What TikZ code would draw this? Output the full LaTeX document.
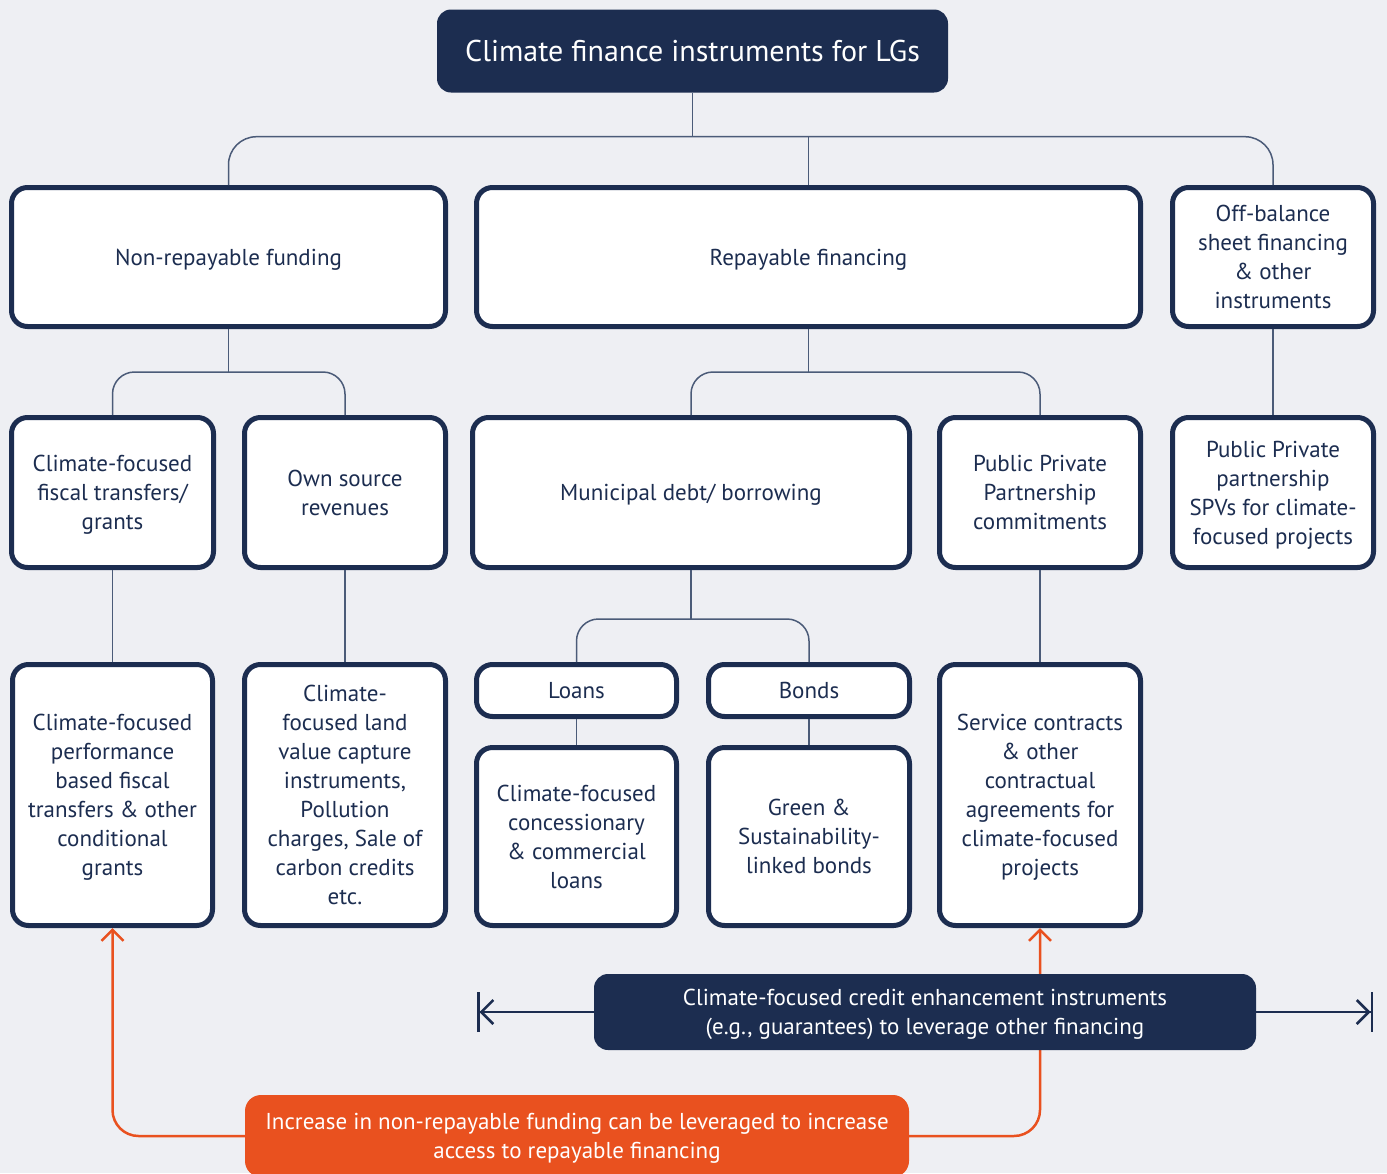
\documentclass[tikz,border=0pt]{standalone}
\usepackage{fontspec}
\setmainfont{PT Sans}
\usetikzlibrary{arrows.meta}
\definecolor{navy}{HTML}{1C2D50}
\definecolor{bg}{HTML}{EEEFF3}
\definecolor{orng}{HTML}{E9511F}
\definecolor{linkc}{HTML}{4B5B78}

\begin{document}
\begin{tikzpicture}[x=1pt,y=-1pt,
  box/.style={draw=navy,line width=5pt,fill=white,rounded corners=16pt,text=navy,align=center,inner sep=0pt,text depth=0pt,font=\fontsize{23}{29}\selectfont},
  dark/.style={fill=navy,rounded corners=14pt,text=white,align=center,inner sep=0pt,text depth=0pt},
  link/.style={draw=linkc,line width=1.5pt},
  lever/.style={draw=orng,line width=2.5pt,rounded corners=26pt,-{Straight Barb[length=11pt,width=22pt]}},
  enh/.style={draw=navy,line width=2.5pt,-{Straight Barb[length=12pt,width=24pt,sep=0pt]Bar[width=40pt]}}]
\useasboundingbox (0,0) rectangle (1387,1173);
\clip (0,0) rectangle (1387,1173);
\fill[bg] (0,0) rectangle (1387,1173);

\node[dark,minimum width=511,minimum height=83,font=\fontsize{30}{36}\selectfont] (top) at (692.5,51) {Climate finance instruments for LGs};

\node[box,minimum width=434,minimum height=139] (nonrep) at (228.5,257) {Non-repayable funding};
\node[box,minimum width=664,minimum height=139] (rep) at (808.5,257) {Repayable financing};
\node[box,minimum width=201,minimum height=139] (offbal) at (1273,257) {Off-balance\\sheet financing\\\& other\\instruments};

\node[box,minimum width=202,minimum height=150] (fiscal) at (112.5,492.5) {Climate-focused\\fiscal transfers/\\grants};
\node[box,minimum width=201,minimum height=150] (own) at (345,492.5) {Own source\\revenues};
\node[box,minimum width=437,minimum height=150] (muni) at (691,492.5) {Municipal debt/ borrowing};
\node[box,minimum width=201,minimum height=150] (ppp) at (1040,492.5) {Public Private\\Partnership\\commitments};
\node[box,minimum width=201,minimum height=150] (spv) at (1273,492.5) {Public Private\\partnership\\SPVs for climate-\\focused projects};

\node[box,minimum width=200,minimum height=261] (perf) at (112.5,795) {Climate-focused\\performance\\based fiscal\\transfers \& other\\conditional\\grants};
\node[box,minimum width=201,minimum height=261] (land) at (345,795) {Climate-\\focused land\\value capture\\instruments,\\Pollution\\charges, Sale of\\carbon credits\\etc.};
\node[box,minimum width=200,minimum height=52] (loans) at (576.5,690.5) {Loans};
\node[box,minimum width=201,minimum height=52] (bonds) at (809,690.5) {Bonds};
\node[box,minimum width=200,minimum height=178] (concl) at (576.5,836.5) {Climate-focused\\concessionary\\\& commercial\\loans};
\node[box,minimum width=201,minimum height=178] (green) at (809,836.5) {Green \&\\Sustainability-\\linked bonds};
\node[box,minimum width=201,minimum height=261] (serv) at (1040,795) {Service contracts\\\& other\\contractual\\agreements for\\climate-focused\\projects};

\draw[link] (top.south) -- ++(0,44) coordinate (j1);
\draw[link,rounded corners=28pt] (nonrep.north) |- (j1) -| (offbal.north);
\draw[link] (j1 -| rep.north) -- (rep.north);
\draw[link] (nonrep.south) -- ++(0,43) coordinate (j2);
\draw[link,rounded corners=22pt] (fiscal.north) |- (j2) -| (own.north);
\draw[link] (rep.south) -- ++(0,43) coordinate (j3);
\draw[link,rounded corners=22pt] (muni.north) |- (j3) -| (ppp.north);
\draw[link] (offbal) -- (spv);
\draw[link] (fiscal) -- (perf);
\draw[link] (own) -- (land);
\draw[link] (muni.south) -- ++(0,49) coordinate (j4);
\draw[link,rounded corners=22pt] (loans.north) |- (j4) -| (bonds.north);
\draw[link] (loans) -- (concl);
\draw[link] (bonds) -- (green);
\draw[link] (ppp) -- (serv);

\node[dark,minimum width=664,minimum height=82,rounded corners=16pt,fill=orng,font=\fontsize{23}{29}\selectfont] (incr) at (577,1136) {Increase in non-repayable funding can be leveraged to increase\\access to repayable financing};
\draw[lever] (incr.west) -| (perf.south);
\draw[lever] (incr.east) -| (serv.south);

\node[dark,minimum width=662,minimum height=76,font=\fontsize{23}{29}\selectfont] (cred) at (925,1012) {Climate-focused credit enhancement instruments\\(e.g., guarantees) to leverage other financing};
\coordinate (lend) at (477,1012);
\coordinate (rend) at (1373,1012);
\draw[enh] (cred.west) -- (lend);
\draw[enh] (cred.east) -- (rend);
\end{tikzpicture}
\end{document}
